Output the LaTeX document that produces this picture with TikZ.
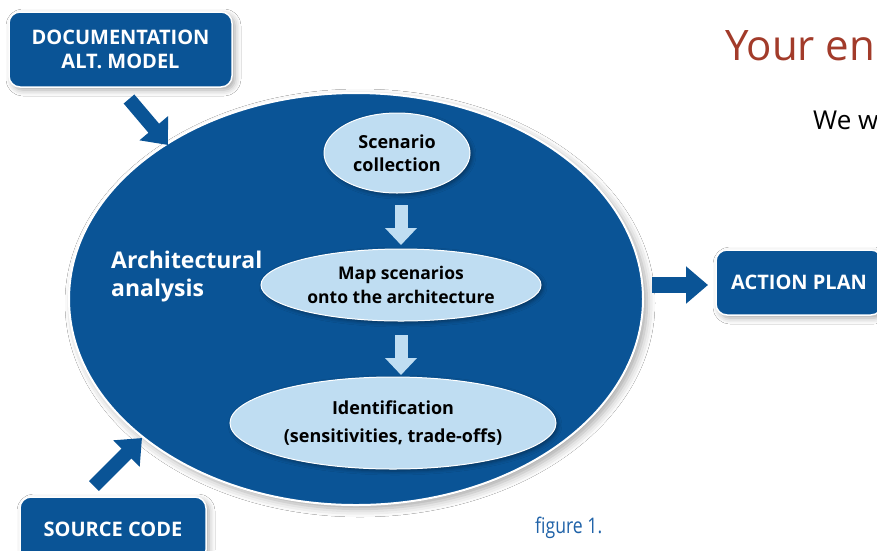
\documentclass[tikz,border=0pt]{standalone}
\usepackage{fontspec}
\setmainfont{Open Sans}
\newfontfamily\condfont[FakeStretch=0.82]{Open Sans}
\usetikzlibrary{arrows.meta,shapes.geometric,shadows.blur}
\definecolor{dblue}{HTML}{0A5496}
\definecolor{lblue}{HTML}{BFDDF2}
\definecolor{rust}{HTML}{A23B2A}
\definecolor{figblue}{HTML}{1F62A8}
\begin{document}
\begin{tikzpicture}[x=1pt,y=-1pt,
  box/.style={rectangle, rounded corners=11pt, fill=dblue, draw=white, line width=1.5pt,
    text=white, font=\fontsize{20}{24}\selectfont\bfseries, align=center, inner sep=0pt,
    blur shadow={shadow xshift=3pt, shadow yshift=-3pt, shadow blur radius=6pt, shadow opacity=35}},
  bigell/.style={ellipse, fill=dblue, draw=white, line width=2pt, inner sep=0pt,
    blur shadow={shadow xshift=4pt, shadow yshift=-4pt, shadow blur radius=8pt, shadow opacity=35}},
  inell/.style={ellipse, fill=lblue, draw=white, line width=1pt, inner sep=0pt, align=center,
    text=black, font=\fontsize{18}{23}\selectfont\bfseries,
    blur shadow={shadow xshift=2pt, shadow yshift=-2pt, shadow blur radius=4pt, shadow opacity=40}},
  darr/.style={draw=dblue, line width=14pt, -{Triangle[width=36pt,length=22pt]}},
  larr/.style={draw=lblue, line width=13pt, -{Triangle[width=31pt,length=17pt]}},
]
\useasboundingbox (0,0) rectangle (877,550);
\fill[white] (0,0) rectangle (877,550);

% title texts
\node[anchor=base west, inner sep=0pt, text=rust, font=\fontsize{42}{46}\selectfont] (title) at (725,60) {Your en};
\node[anchor=base west, inner sep=0pt, text=black, font=\fontsize{26}{30}\selectfont] (sub) at (813,129) {We w};

% big ellipse
\node[bigell, minimum width=574pt, minimum height=412pt] (main) at (356,299) {};

% outer boxes
\node[box, minimum width=223pt, minimum height=75pt] (doc) at (120.5,49.5) {DOCUMENTATION\\ALT. MODEL};
\node[box, minimum width=166pt, minimum height=65pt] (act) at (799,282.5) {ACTION PLAN};
\node[box, minimum width=186pt, minimum height=64pt] (src) at (113,529) {SOURCE CODE};

% inner text
\node[anchor=west, align=left, inner sep=0pt, text=white,
  font=\fontsize{23}{28}\selectfont\bfseries] (aa) at (111,277) {Architectural\\analysis};

% inner ellipses
\node[inell, minimum width=146pt, minimum height=80pt] (scen) at (397,153) {Scenario\\collection};
\node[inell, minimum width=280pt, minimum height=72pt, font=\fontsize{17.5}{24}\selectfont\bfseries] (map) at (401,285) {Map scenarios\\onto the architecture};
\node[inell, minimum width=326pt, minimum height=92pt, font=\fontsize{18}{28}\selectfont\bfseries] (ident) at (393,423) {Identification\\(sensitivities, trade-offs)};

% light arrows
\coordinate (l1s) at (401,205);
\coordinate (l1e) at (401,245);
\coordinate (l2s) at (401,335);
\coordinate (l2e) at (401,375);
\draw[larr] (l1s) -- (l1e);
\draw[larr] (l2s) -- (l2e);

% dark arrows
\coordinate (d1s) at (129,99);
\coordinate (d1e) at (168,145);
\coordinate (d2s) at (94,486);
\coordinate (d2e) at (142,438);
\coordinate (d3s) at (652,285);
\coordinate (d3e) at (708,285);
\draw[darr] (d1s) -- (d1e);
\draw[darr] (d2s) -- (d2e);
\draw[darr, line width=16pt] (d3s) -- (d3e);

% caption
\node[anchor=base west, inner sep=0pt, text=figblue, font=\condfont\fontsize{21.5}{24}\selectfont] (cap) at (535,533) {figure 1.};
\end{tikzpicture}
\end{document}
